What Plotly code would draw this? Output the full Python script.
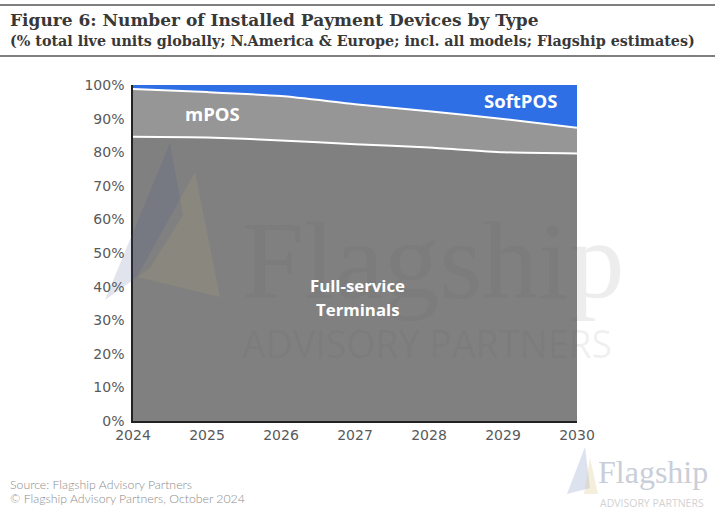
import plotly.graph_objects as go

years = [2024, 2025, 2026, 2027, 2028, 2029, 2030]
full_service = [84.6, 84.4, 83.5, 82.4, 81.4, 80.0, 79.6]
mpos = [14.2, 13.5, 13.2, 11.9, 10.8, 9.9, 7.7]
softpos = [1.2, 2.1, 3.3, 5.7, 7.8, 10.1, 12.7]

C_FS = "#808080"
C_MPOS = "#969696"
C_SOFT = "#2E6FE6"

fig = go.Figure()
for name, vals, col, lw in [("Full-service Terminals", full_service, C_FS, 2),
                            ("mPOS", mpos, C_MPOS, 2),
                            ("SoftPOS", softpos, C_SOFT, 0)]:
    fig.add_trace(go.Scatter(
        x=years, y=vals, name=name, mode="lines", stackgroup="one",
        line=dict(color="white", width=lw, shape="spline", smoothing=0.6),
        fillcolor=col, hoverinfo="x+y+name"))

W, H = 715, 520
L, R, T, B = 133, 138, 85, 99

fig.update_layout(
    width=W, height=H,
    margin=dict(l=L, r=R, t=T, b=B),
    paper_bgcolor="white", plot_bgcolor="white",
    showlegend=False,
    font=dict(family="DejaVu Sans", color="#595959", size=14),
    xaxis=dict(range=[2024, 2030], tickvals=years, ticktext=[str(y) for y in years],
               showgrid=False, zeroline=False, showline=True, linecolor="#222",
               linewidth=1.5, ticks="", tickfont=dict(size=14, color="#595959")),
    yaxis=dict(range=[0, 100], tickvals=list(range(0, 101, 10)),
               ticktext=[f"{v}%" for v in range(0, 101, 10)],
               showgrid=False, zeroline=False, showline=True, linecolor="#222",
               linewidth=1.5, ticks="", ticklabelstandoff=4,
               tickfont=dict(size=14, color="#595959")),
)


def px(x):
    return (x - L) / (W - L - R)


def py(y):
    return (H - B - y) / (H - T - B)


# header rules
for yy in (5, 56):
    fig.add_shape(type="line", xref="paper", yref="paper", x0=px(0), x1=px(W),
                  y0=py(yy), y1=py(yy), line=dict(color="#7f7f7f", width=2))

fig.add_annotation(x=px(8), y=py(20), xref="paper", yref="paper", xanchor="left", yanchor="middle",
                   showarrow=False, align="left",
                   text="<b>Figure 6: Number of Installed Payment Devices by Type</b>",
                   font=dict(family="DejaVu Serif", size=17, color="#383838"))
fig.add_annotation(x=px(8), y=py(41), xref="paper", yref="paper", xanchor="left", yanchor="middle",
                   showarrow=False, align="left",
                   text="<b>(% total live units globally; N.America &amp; Europe; incl. all models; Flagship estimates)</b>",
                   font=dict(family="DejaVu Serif", size=14.3, color="#383838"))

# watermark
fig.add_shape(type="path", xref="paper", yref="paper",
              path=f"M {px(170)},{py(143)} L {px(183)},{py(215)} L {px(150)},{py(268)} L {px(105)},{py(300)} Z",
              fillcolor="rgba(70,90,140,0.16)", line=dict(width=0))
fig.add_shape(type="path", xref="paper", yref="paper",
              path=f"M {px(195)},{py(172)} L {px(220)},{py(297)} L {px(137)},{py(277)} Z",
              fillcolor="rgba(200,180,120,0.14)", line=dict(width=0))
fig.add_annotation(x=px(240), y=py(260), xref="paper", yref="paper", xanchor="left", yanchor="middle",
                   showarrow=False, text="Flagship",
                   font=dict(family="Liberation Serif", size=111, color="rgba(90,90,90,0.11)"))
fig.add_annotation(x=px(240), y=py(343), xref="paper", yref="paper", xanchor="left", yanchor="middle",
                   showarrow=False, text="ADVISORY PARTNERS",
                   font=dict(family="Open Sans", size=37.5, color="rgba(90,90,90,0.09)"))

# series labels
fig.add_annotation(x=2025.07, y=91.5, showarrow=False, text="<b>mPOS</b>",
                   font=dict(family="Open Sans", size=18.5, color="white"))
fig.add_annotation(x=2029.23, y=95.4, showarrow=False, text="<b>SoftPOS</b>",
                   font=dict(family="Open Sans", size=18.5, color="white"))
fig.add_annotation(x=2027.03, y=40.2, showarrow=False, text="<b>Full-service</b>",
                   font=dict(family="Open Sans", size=16.8, color="white"))
fig.add_annotation(x=2027.03, y=33.3, showarrow=False, text="<b>Terminals</b>",
                   font=dict(family="Open Sans", size=16.8, color="white"))

# footer
fig.add_annotation(x=px(8), y=py(484), xref="paper", yref="paper", xanchor="left", yanchor="middle",
                   showarrow=False, align="left", text="Source: Flagship Advisory Partners",
                   font=dict(family="Lato", size=12.3, color="#8c8c8c", weight=300))
fig.add_annotation(x=px(8), y=py(498), xref="paper", yref="paper", xanchor="left", yanchor="middle",
                   showarrow=False, align="left", text="© Flagship Advisory Partners, October 2024",
                   font=dict(family="Lato", size=12.3, color="#8c8c8c", weight=300))
fig.add_annotation(x=px(653), y=py(472), xref="paper", yref="paper", xanchor="center", yanchor="middle",
                   showarrow=False, text="Flagship",
                   font=dict(family="Liberation Serif", size=32, color="#c9ced8"))
fig.add_annotation(x=px(652), y=py(503), xref="paper", yref="paper", xanchor="center", yanchor="middle",
                   showarrow=False, text="ADVISORY PARTNERS",
                   font=dict(family="Open Sans", size=10.5, color="#d2d2d2"))
fig.add_shape(type="path", xref="paper", yref="paper",
              path=f"M {px(585)},{py(447)} L {px(590)},{py(488)} L {px(567)},{py(494)} Z",
              fillcolor="rgba(120,140,190,0.25)", line=dict(width=0))
fig.add_shape(type="path", xref="paper", yref="paper",
              path=f"M {px(590)},{py(458)} L {px(598)},{py(494)} L {px(584)},{py(494)} Z",
              fillcolor="rgba(220,200,140,0.3)", line=dict(width=0))

fig.write_html("out.html", config={"displayModeBar": False},
               post_script="document.body.style.margin='0';document.body.style.overflow='hidden';")
